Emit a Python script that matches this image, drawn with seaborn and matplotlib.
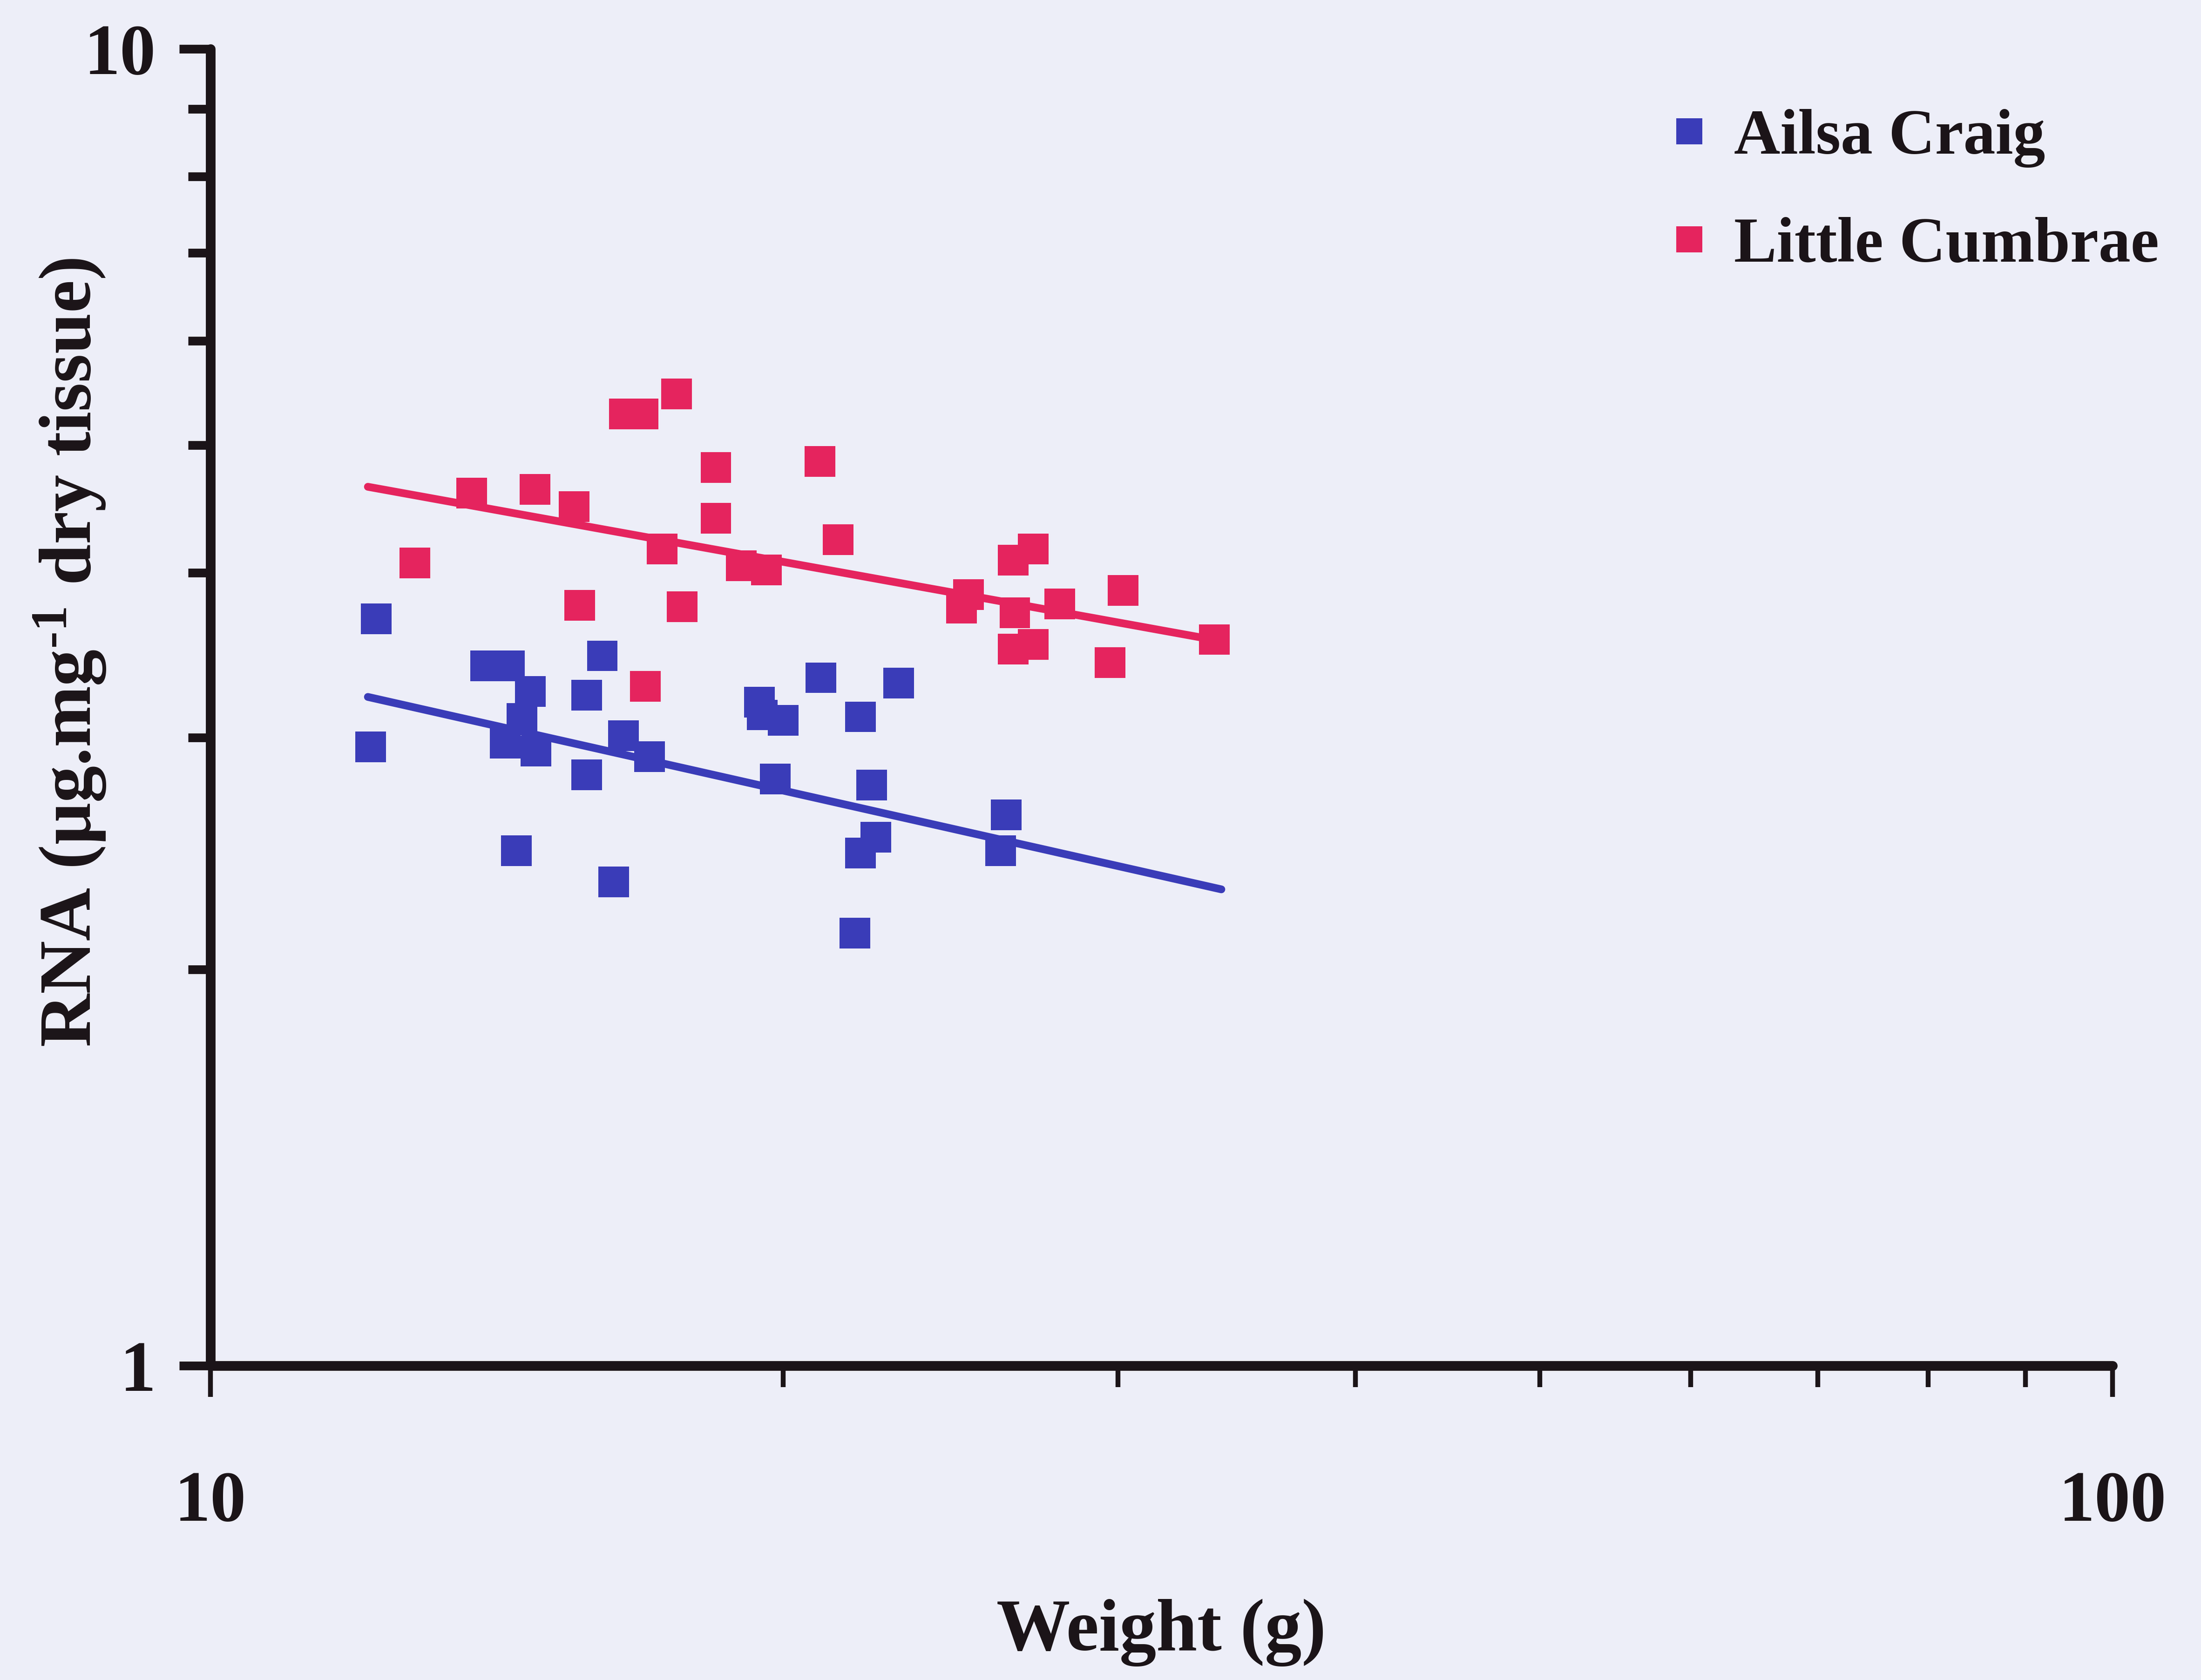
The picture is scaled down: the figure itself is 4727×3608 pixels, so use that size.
import matplotlib
matplotlib.use("Agg")
import matplotlib.pyplot as plt
import seaborn as sns
import pandas as pd
import numpy as np

# ---- data ----
ac_weight = [12.22, 12.14, 13.95, 14.36, 14.73, 14.58, 14.29, 14.83, 14.48, 16.07,
             15.77, 16.49, 17.02, 15.77, 16.29, 20.94, 23.00, 19.50, 20.00, 19.44,
             21.97, 19.81, 22.27, 22.38, 21.97, 26.21, 26.03, 21.82]
ac_rna = [3.69, 2.95, 3.40, 3.40, 3.25, 3.10, 2.97, 2.93, 2.46, 3.46,
          3.23, 3.01, 2.90, 2.81, 2.33, 3.33, 3.30, 3.12, 3.09, 3.19,
          3.11, 2.79, 2.76, 2.52, 2.45, 2.62, 2.46, 2.13]

lc_weight = [12.81, 13.72, 14.81, 15.53, 15.64, 16.51, 16.88, 17.58, 17.28, 17.70,
             16.93, 18.44, 18.44, 19.01, 19.60, 20.91, 21.38, 24.82, 25.03, 26.43,
             27.07, 26.48, 27.07, 26.43, 27.96, 30.18, 29.72, 33.71]
lc_rna = [4.07, 4.60, 4.63, 4.49, 3.78, 5.28, 5.28, 5.47, 4.17, 3.77,
          3.28, 4.81, 4.40, 4.05, 4.02, 4.86, 4.24, 3.76, 3.85, 4.09,
          4.17, 3.73, 3.53, 3.50, 3.79, 3.88, 3.42, 3.56]

fit_weight = [12.1, 34.0]
ac_fit = [3.22, 2.30]
lc_fit = [4.65, 3.55]

sites = ["Ailsa Craig", "Little Cumbrae"]
x_major = [10, 100]
x_major_labels = ["10", "100"]
x_minor = [20, 30, 40, 50, 60, 70, 80, 90]
y_major = [1, 10]
y_major_labels = ["1", "10"]
y_minor = [2, 3, 4, 5, 6, 7, 8, 9]

# ---- styling ----
BG = "#EDEEF8"
INK = "#1b1418"
BLUE = "#3A3CB8"
RED = "#E5245E"
palette = {sites[0]: BLUE, sites[1]: RED}

sns.set_style("white")
plt.rcParams["font.family"] = ["Liberation Serif", "DejaVu Serif"]
plt.rcParams["font.weight"] = "bold"
plt.rcParams["mathtext.fontset"] = "custom"
plt.rcParams["mathtext.rm"] = "Liberation Serif:bold"
plt.rcParams["mathtext.bf"] = "Liberation Serif:bold"
plt.rcParams["mathtext.it"] = "Liberation Serif:bold"

points = pd.DataFrame({
    "Weight": ac_weight + lc_weight,
    "RNA": ac_rna + lc_rna,
    "Site": [sites[0]] * len(ac_weight) + [sites[1]] * len(lc_weight),
})
fits = pd.DataFrame({
    "Weight": fit_weight + fit_weight,
    "RNA": ac_fit + lc_fit,
    "Site": [sites[0]] * 2 + [sites[1]] * 2,
})

fig = plt.figure(figsize=(4727 / 300, 3608 / 300), dpi=300, facecolor=BG)
ax = fig.add_axes([0.0956, 0.1871, 0.8642, 0.7838], facecolor=BG)

sns.scatterplot(data=points, x="Weight", y="RNA", hue="Site", palette=palette,
                marker="s", s=250, linewidth=0, ax=ax, zorder=3)
sns.lineplot(data=fits, x="Weight", y="RNA", hue="Site", palette=palette,
             linewidth=4, ax=ax, legend=False, zorder=4, estimator=None)

ax.set_xscale("log")
ax.set_yscale("log")
ax.set_xlim(10, 100)
ax.set_ylim(1, 10)

ax.set_xticks(x_major, x_major_labels)
ax.set_xticks(x_minor, [""] * len(x_minor), minor=True)
ax.set_yticks(y_major, y_major_labels)
ax.set_yticks(y_minor, [""] * len(y_minor), minor=True)

for side in ["top", "right"]:
    ax.spines[side].set_visible(False)
for side in ["left", "bottom"]:
    ax.spines[side].set_linewidth(5)
    ax.spines[side].set_color(INK)
    ax.spines[side].set_capstyle("round")

ax.tick_params(axis="x", which="both", bottom=True, top=False)
ax.tick_params(axis="y", which="both", left=True, right=False)
ax.tick_params(axis="x", which="major", direction="out", length=16, width=2.5,
               color=INK, pad=38, labelsize=37, labelcolor=INK)
ax.tick_params(axis="x", which="minor", direction="out", length=11, width=2.5, color=INK)
ax.tick_params(axis="y", which="major", direction="out", length=16, width=4.5,
               color=INK, pad=12, labelsize=37, labelcolor=INK)
ax.tick_params(axis="y", which="minor", direction="out", length=11.5, width=4.5, color=INK)
for lab in ax.get_xticklabels() + ax.get_yticklabels():
    lab.set_fontweight("bold")

ax.set_xlabel("Weight (g)", fontsize=38, fontweight="bold", color=INK)
ax.xaxis.set_label_coords(0.5, -0.2026)
ax.xaxis.label.set_verticalalignment("center")
ax.set_ylabel(r"RNA (μg.mg$^{\text{-1}}$ dry tissue)", fontsize=38, fontweight="bold", color=INK)
ax.yaxis.set_label_coords(-0.0738, 0.5416)
ax.yaxis.label.set_verticalalignment("center")

handles, labels = ax.get_legend_handles_labels()
leg = ax.legend(handles, labels, loc="upper left", bbox_to_anchor=(0.764, 0.9545),
                frameon=False, fontsize=33, handlelength=0.8, handletextpad=0.3,
                borderpad=0, borderaxespad=0, labelspacing=0.77, markerscale=0.85)
for t in leg.get_texts():
    t.set_fontweight("bold")
    t.set_color(INK)

fig.savefig("out.png", dpi=300, facecolor=BG)
